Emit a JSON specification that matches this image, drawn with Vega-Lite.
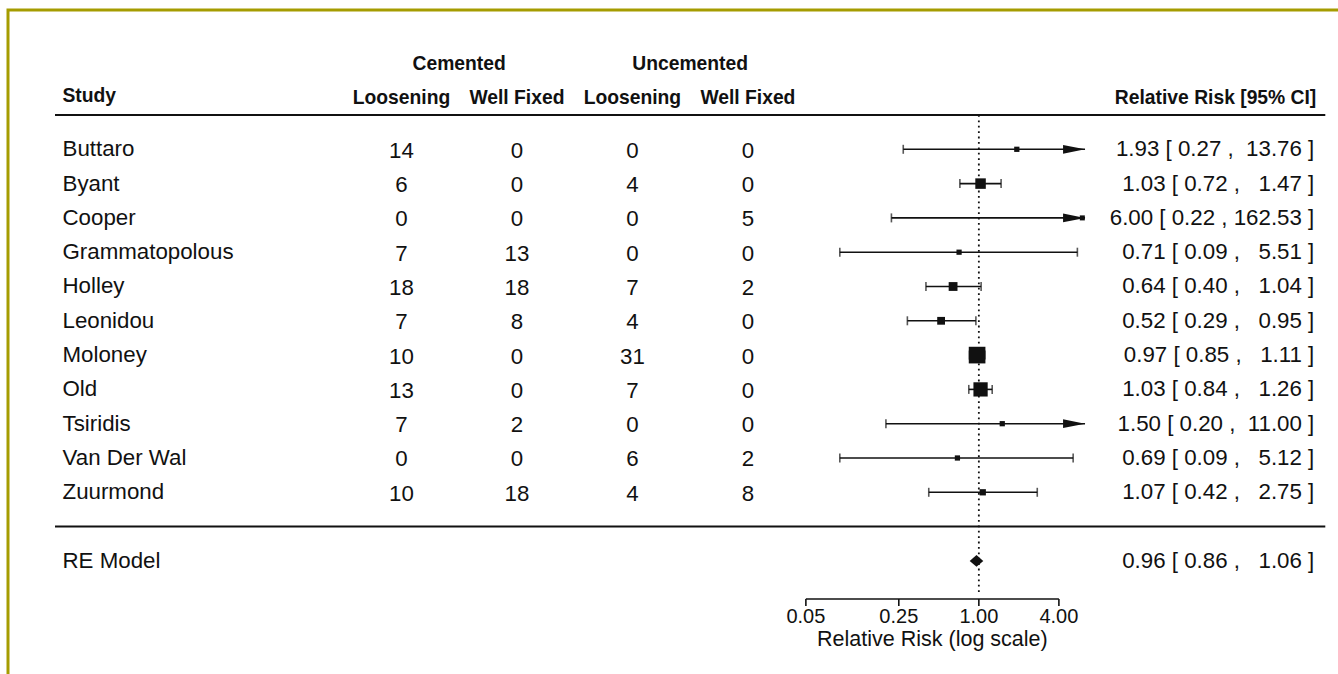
{
  "$schema": "https://vega.github.io/schema/vega-lite/v6.json",
  "width": 1330,
  "height": 664,
  "autosize": {"type": "none"},
  "padding": {"left": 8, "top": 10, "right": 0, "bottom": 0},
  "background": "white",
  "config": {
    "view": {"stroke": null},
    "axis": {"disable": true},
    "legend": {"disable": true},
    "text": {"font": "Liberation Sans", "fontSize": 22.3, "color": "#111111"}
  },
  "datasets": {
    "studies": [
      {"study": "Buttaro", "row": 11, "cem_loose": 14, "cem_fixed": 0, "unc_loose": 0, "unc_fixed": 0, "est": 1.93, "lo": 0.27, "hi": 13.76, "weight": 0.57, "label": "1.93\u00a0[\u00a00.27\u00a0,\u00a0\u00a013.76\u00a0]"},
      {"study": "Byant", "row": 10, "cem_loose": 6, "cem_fixed": 0, "unc_loose": 4, "unc_fixed": 0, "est": 1.03, "lo": 0.72, "hi": 1.47, "weight": 13.5, "label": "1.03\u00a0[\u00a00.72\u00a0,\u00a0\u00a0\u00a01.47\u00a0]"},
      {"study": "Cooper", "row": 9, "cem_loose": 0, "cem_fixed": 0, "unc_loose": 0, "unc_fixed": 5, "est": 6.0, "lo": 0.22, "hi": 162.53, "weight": 0.2, "label": "6.00\u00a0[\u00a00.22\u00a0,\u00a0162.53\u00a0]"},
      {"study": "Grammatopolous", "row": 8, "cem_loose": 7, "cem_fixed": 13, "unc_loose": 0, "unc_fixed": 0, "est": 0.71, "lo": 0.09, "hi": 5.51, "weight": 0.52, "label": "0.71\u00a0[\u00a00.09\u00a0,\u00a0\u00a0\u00a05.51\u00a0]"},
      {"study": "Holley", "row": 7, "cem_loose": 18, "cem_fixed": 18, "unc_loose": 7, "unc_fixed": 2, "est": 0.64, "lo": 0.4, "hi": 1.04, "weight": 8.4, "label": "0.64\u00a0[\u00a00.40\u00a0,\u00a0\u00a0\u00a01.04\u00a0]"},
      {"study": "Leonidou", "row": 6, "cem_loose": 7, "cem_fixed": 8, "unc_loose": 4, "unc_fixed": 0, "est": 0.52, "lo": 0.29, "hi": 0.95, "weight": 5.7, "label": "0.52\u00a0[\u00a00.29\u00a0,\u00a0\u00a0\u00a00.95\u00a0]"},
      {"study": "Moloney", "row": 5, "cem_loose": 10, "cem_fixed": 0, "unc_loose": 31, "unc_fixed": 0, "est": 0.97, "lo": 0.85, "hi": 1.11, "weight": 39.6, "label": "0.97\u00a0[\u00a00.85\u00a0,\u00a0\u00a0\u00a01.11\u00a0]"},
      {"study": "Old", "row": 4, "cem_loose": 13, "cem_fixed": 0, "unc_loose": 7, "unc_fixed": 0, "est": 1.03, "lo": 0.84, "hi": 1.26, "weight": 28.0, "label": "1.03\u00a0[\u00a00.84\u00a0,\u00a0\u00a0\u00a01.26\u00a0]"},
      {"study": "Tsiridis", "row": 3, "cem_loose": 7, "cem_fixed": 2, "unc_loose": 0, "unc_fixed": 0, "est": 1.5, "lo": 0.2, "hi": 11.0, "weight": 0.55, "label": "1.50\u00a0[\u00a00.20\u00a0,\u00a0\u00a011.00\u00a0]"},
      {"study": "Van Der Wal", "row": 2, "cem_loose": 0, "cem_fixed": 0, "unc_loose": 6, "unc_fixed": 2, "est": 0.69, "lo": 0.09, "hi": 5.12, "weight": 0.54, "label": "0.69\u00a0[\u00a00.09\u00a0,\u00a0\u00a0\u00a05.12\u00a0]"},
      {"study": "Zuurmond", "row": 1, "cem_loose": 10, "cem_fixed": 18, "unc_loose": 4, "unc_fixed": 8, "est": 1.07, "lo": 0.42, "hi": 2.75, "weight": 2.4, "label": "1.07\u00a0[\u00a00.42\u00a0,\u00a0\u00a0\u00a02.75\u00a0]"}
    ],
    "pooled": [
      {"study": "RE Model", "row": -1, "est": 0.96, "lo": 0.86, "hi": 1.06, "label": "0.96\u00a0[\u00a00.86\u00a0,\u00a0\u00a0\u00a01.06\u00a0]"}
    ],
    "ticks": [{"rr": 0.05}, {"rr": 0.25}, {"rr": 1}, {"rr": 4}],
    "one": [{}]
  },
  "layer": [
    {
      "data": {"name": "one"},
      "mark": {"type": "rect", "fill": "transparent", "stroke": "#a59c00", "strokeWidth": 3},
      "encoding": {
        "x": {"datum": 4.9855e-8, "type": "quantitative", "axis": null, "scale": {"type": "log", "domain": [4.9855e-8, 502.76], "nice": false}},
        "x2": {"datum": 100000},
        "y": {"datum": 15.0612, "type": "quantitative", "axis": null, "scale": {"domain": [-4.2974, 15.0612], "nice": false, "zero": false}},
        "y2": {"datum": -10}
      }
    },
    {
      "data": {"name": "one"},
      "mark": {"type": "rule", "color": "#111111", "strokeWidth": 2},
      "encoding": {
        "x": {"datum": 1.12535e-7, "type": "quantitative", "axis": null},
        "x2": {"datum": 403.429},
        "y": {"datum": 12, "type": "quantitative", "axis": null}
      }
    },
    {
      "data": {"name": "one"},
      "mark": {"type": "rule", "color": "#111111", "strokeWidth": 2},
      "encoding": {
        "x": {"datum": 1.12535e-7, "type": "quantitative", "axis": null},
        "x2": {"datum": 403.429},
        "y": {"datum": 0, "type": "quantitative", "axis": null}
      }
    },
    {
      "data": {"name": "one"},
      "mark": {"type": "rule", "color": "#111111", "strokeWidth": 1.8, "strokeDash": [1.8, 3.6]},
      "encoding": {
        "x": {"datum": 1, "type": "quantitative", "axis": null},
        "y": {"datum": 12, "type": "quantitative", "axis": null},
        "y2": {"datum": -1.907}
      }
    },
    {
      "data": {"name": "one"},
      "mark": {"type": "text", "text": "Study", "fontWeight": "bold", "fontSize": 19.3, "align": "left", "dx": 7.5},
      "encoding": {
        "x": {"datum": 1.12535e-7, "type": "quantitative", "axis": null},
        "y": {"datum": 12.54, "type": "quantitative", "axis": null}
      }
    },
    {
      "data": {"name": "one"},
      "mark": {"type": "text", "text": "Loosening", "fontWeight": "bold", "fontSize": 19.3},
      "encoding": {
        "x": {"datum": 4.53999e-5, "type": "quantitative", "axis": null},
        "y": {"datum": 12.5, "type": "quantitative", "axis": null}
      }
    },
    {
      "data": {"name": "one"},
      "mark": {"type": "text", "text": "Well Fixed", "fontWeight": "bold", "fontSize": 19.3},
      "encoding": {
        "x": {"datum": 3.35463e-4, "type": "quantitative", "axis": null},
        "y": {"datum": 12.5, "type": "quantitative", "axis": null}
      }
    },
    {
      "data": {"name": "one"},
      "mark": {"type": "text", "text": "Loosening", "fontWeight": "bold", "fontSize": 19.3},
      "encoding": {
        "x": {"datum": 2.47875e-3, "type": "quantitative", "axis": null},
        "y": {"datum": 12.5, "type": "quantitative", "axis": null}
      }
    },
    {
      "data": {"name": "one"},
      "mark": {"type": "text", "text": "Well Fixed", "fontWeight": "bold", "fontSize": 19.3},
      "encoding": {
        "x": {"datum": 1.83156e-2, "type": "quantitative", "axis": null},
        "y": {"datum": 12.5, "type": "quantitative", "axis": null}
      }
    },
    {
      "data": {"name": "one"},
      "mark": {"type": "text", "text": "Cemented", "fontWeight": "bold", "fontSize": 19.3},
      "encoding": {
        "x": {"datum": 1.2341e-4, "type": "quantitative", "axis": null},
        "y": {"datum": 13.49, "type": "quantitative", "axis": null}
      }
    },
    {
      "data": {"name": "one"},
      "mark": {"type": "text", "text": "Uncemented", "fontWeight": "bold", "fontSize": 19.3},
      "encoding": {
        "x": {"datum": 6.73795e-3, "type": "quantitative", "axis": null},
        "y": {"datum": 13.49, "type": "quantitative", "axis": null}
      }
    },
    {
      "data": {"name": "one"},
      "mark": {"type": "text", "text": "Relative Risk [95% CI]", "fontWeight": "bold", "fontSize": 19.3, "align": "right", "dx": -9},
      "encoding": {
        "x": {"datum": 403.429, "type": "quantitative", "axis": null},
        "y": {"datum": 12.5, "type": "quantitative", "axis": null}
      }
    },
    {
      "data": {"name": "studies"},
      "mark": {"type": "text", "align": "left", "dx": 7.5},
      "encoding": {
        "x": {"datum": 1.12535e-7, "type": "quantitative", "axis": null},
        "y": {"field": "row", "type": "quantitative", "axis": null},
        "text": {"field": "study"}
      }
    },
    {
      "data": {"name": "studies"},
      "mark": {"type": "text", "dy": 1.5},
      "encoding": {
        "x": {"datum": 4.53999e-5, "type": "quantitative", "axis": null},
        "y": {"field": "row", "type": "quantitative", "axis": null},
        "text": {"field": "cem_loose"}
      }
    },
    {
      "data": {"name": "studies"},
      "mark": {"type": "text", "dy": 1.5},
      "encoding": {
        "x": {"datum": 3.35463e-4, "type": "quantitative", "axis": null},
        "y": {"field": "row", "type": "quantitative", "axis": null},
        "text": {"field": "cem_fixed"}
      }
    },
    {
      "data": {"name": "studies"},
      "mark": {"type": "text", "dy": 1.5},
      "encoding": {
        "x": {"datum": 2.47875e-3, "type": "quantitative", "axis": null},
        "y": {"field": "row", "type": "quantitative", "axis": null},
        "text": {"field": "unc_loose"}
      }
    },
    {
      "data": {"name": "studies"},
      "mark": {"type": "text", "dy": 1.5},
      "encoding": {
        "x": {"datum": 1.83156e-2, "type": "quantitative", "axis": null},
        "y": {"field": "row", "type": "quantitative", "axis": null},
        "text": {"field": "unc_fixed"}
      }
    },
    {
      "data": {"name": "studies"},
      "mark": {"type": "text", "align": "right", "dx": -11},
      "encoding": {
        "x": {"datum": 403.429, "type": "quantitative", "axis": null},
        "y": {"field": "row", "type": "quantitative", "axis": null},
        "text": {"field": "label"}
      }
    },
    {
      "data": {"name": "studies"},
      "transform": [{"filter": "datum.hi <= 6.29"}],
      "mark": {"type": "rule", "color": "#111111", "strokeWidth": 1.6},
      "encoding": {
        "x": {"field": "lo", "type": "quantitative", "axis": null},
        "x2": {"field": "hi"},
        "y": {"field": "row", "type": "quantitative", "axis": null}
      }
    },
    {
      "data": {"name": "studies"},
      "transform": [{"filter": "datum.hi > 6.29"}],
      "mark": {"type": "rule", "color": "#111111", "strokeWidth": 1.6},
      "encoding": {
        "x": {"field": "lo", "type": "quantitative", "axis": null},
        "x2": {"datum": 6.29},
        "y": {"field": "row", "type": "quantitative", "axis": null}
      }
    },
    {
      "data": {"name": "studies"},
      "mark": {"type": "tick", "orient": "vertical", "color": "#111111", "size": 9, "thickness": 1.6},
      "encoding": {
        "x": {"field": "lo", "type": "quantitative", "axis": null},
        "y": {"field": "row", "type": "quantitative", "axis": null}
      }
    },
    {
      "data": {"name": "studies"},
      "transform": [{"filter": "datum.hi <= 6.29"}],
      "mark": {"type": "tick", "orient": "vertical", "color": "#111111", "size": 9, "thickness": 1.6},
      "encoding": {
        "x": {"field": "hi", "type": "quantitative", "axis": null},
        "y": {"field": "row", "type": "quantitative", "axis": null}
      }
    },
    {
      "data": {"name": "studies"},
      "transform": [{"filter": "datum.hi > 6.29"}],
      "mark": {"type": "point", "shape": "M -1 -0.2 L 0 0 L -1 0.2 Z", "filled": true, "color": "#111111", "opacity": 1, "size": 1936, "strokeWidth": 0},
      "encoding": {
        "x": {"datum": 6.29, "type": "quantitative", "axis": null},
        "y": {"field": "row", "type": "quantitative", "axis": null}
      }
    },
    {
      "data": {"name": "studies"},
      "mark": {"type": "point", "shape": "square", "filled": true, "color": "#111111", "opacity": 1, "strokeWidth": 0},
      "encoding": {
        "x": {"field": "est", "type": "quantitative", "axis": null},
        "y": {"field": "row", "type": "quantitative", "axis": null},
        "size": {"field": "weight", "type": "quantitative", "legend": null, "scale": {"domain": [0, 40], "range": [24, 280]}}
      }
    },
    {
      "data": {"name": "pooled"},
      "mark": {"type": "text", "align": "left", "dx": 7.5},
      "encoding": {
        "x": {"datum": 1.12535e-7, "type": "quantitative", "axis": null},
        "y": {"field": "row", "type": "quantitative", "axis": null},
        "text": {"field": "study"}
      }
    },
    {
      "data": {"name": "pooled"},
      "mark": {"type": "text", "align": "right", "dx": -11},
      "encoding": {
        "x": {"datum": 403.429, "type": "quantitative", "axis": null},
        "y": {"field": "row", "type": "quantitative", "axis": null},
        "text": {"field": "label"}
      }
    },
    {
      "data": {"name": "pooled"},
      "mark": {"type": "point", "shape": "M -1 0 L 0 -0.85 L 1 0 L 0 0.85 Z", "filled": true, "color": "#111111", "opacity": 1, "size": 185, "strokeWidth": 0},
      "encoding": {
        "x": {"field": "est", "type": "quantitative", "axis": null},
        "y": {"field": "row", "type": "quantitative", "axis": null}
      }
    },
    {
      "data": {"name": "one"},
      "mark": {"type": "rule", "color": "#111111", "strokeWidth": 1.6},
      "encoding": {
        "x": {"datum": 0.05, "type": "quantitative", "axis": null},
        "x2": {"datum": 4},
        "y": {"datum": -2.111, "type": "quantitative", "axis": null}
      }
    },
    {
      "data": {"name": "ticks"},
      "mark": {"type": "rule", "color": "#111111", "strokeWidth": 1.6},
      "encoding": {
        "x": {"field": "rr", "type": "quantitative", "axis": null},
        "y": {"datum": -2.111, "type": "quantitative", "axis": null},
        "y2": {"datum": -2.315}
      }
    },
    {
      "data": {"name": "ticks"},
      "mark": {"type": "text", "fontSize": 20},
      "encoding": {
        "x": {"field": "rr", "type": "quantitative", "axis": null},
        "y": {"datum": -2.65, "type": "quantitative", "axis": null},
        "text": {"field": "rr", "type": "quantitative", "format": ".2f"}
      }
    },
    {
      "data": {"name": "one"},
      "mark": {"type": "text", "text": "Relative Risk (log scale)", "fontSize": 21.5},
      "encoding": {
        "x": {"datum": 0.4472, "type": "quantitative", "axis": null},
        "y": {"datum": -3.31, "type": "quantitative", "axis": null}
      }
    }
  ]
}
